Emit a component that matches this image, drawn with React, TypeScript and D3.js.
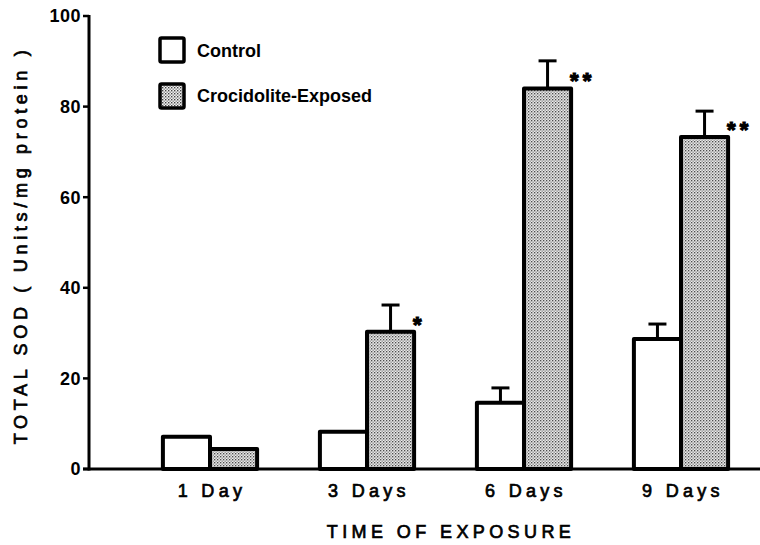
import React from "react";
import * as d3 from "d3";

const categories = ["1 Day", "3 Days", "6 Days", "9 Days"];
const series = ["Control", "Crocidolite-Exposed"];
const controlValues = [7.1, 8.2, 14.6, 28.7];
const controlErrors = [0, 0, 3.3, 3.3];
const exposedValues = [4.4, 30.3, 84.0, 73.3];
const exposedErrors = [0, 5.9, 6.1, 5.7];
const significance = ["", "*", "**", "**"];
const yTicks = [0, 20, 40, 60, 80, 100];

const W = 760;
const H = 545;
const FONT = "'Liberation Sans', Arial, Helvetica, sans-serif";

export default function App() {
  const x0 = 89;
  const y = d3.scaleLinear().domain([0, 100]).range([469, 16]);
  const xGroup = d3
    .scaleBand<string>()
    .domain(categories)
    .range([131.5, 759.5])
    .paddingInner(0.4)
    .paddingOuter(0.2);
  const xSeries = d3
    .scaleBand<string>()
    .domain(series)
    .range([0, xGroup.bandwidth()])
    .padding(0);

  const rows = categories.map((c, i) => ({
    cat: c,
    bars: [
      { s: series[0], v: controlValues[i], e: controlErrors[i] },
      { s: series[1], v: exposedValues[i], e: exposedErrors[i] },
    ],
    sig: significance[i],
  }));

  const bw = xSeries.bandwidth();

  return (
    <svg
      width={W}
      height={H}
      style={{ position: "absolute", left: 0, top: 0, background: "#fff" }}
      fontFamily={FONT}
    >
      <defs>
        <pattern id="stipple" width="3" height="3" patternUnits="userSpaceOnUse">
          <rect width="3" height="3" fill="#f2f2f2" />
          <rect x="0" y="0" width="1.4" height="1.4" fill="#444" />
          <rect x="1.5" y="1.5" width="1.4" height="1.4" fill="#888" />
        </pattern>
      </defs>

      {/* bars */}
      {rows.map((r) => {
        const gx = xGroup(r.cat)!;
        return (
          <g key={r.cat} transform={`translate(${gx},0)`}>
            {r.bars.map((b, j) => {
              const bx = xSeries(b.s)!;
              const cx = bx + bw / 2;
              return (
                <g key={b.s}>
                  {b.e > 0 && (
                    <g stroke="#000" strokeWidth={3}>
                      <line x1={cx} x2={cx} y1={y(b.v)} y2={y(b.v + b.e)} />
                      <line x1={cx - 9} x2={cx + 9} y1={y(b.v + b.e)} y2={y(b.v + b.e)} />
                    </g>
                  )}
                  <rect
                    x={bx}
                    y={y(b.v)}
                    width={bw}
                    height={y(0) - y(b.v)}
                    fill={j === 0 ? "#fff" : "url(#stipple)"}
                    stroke="#000"
                    strokeWidth={4}
                    strokeLinejoin="round"
                  />
                </g>
              );
            })}
            {r.sig && (
              <text
                x={xSeries(series[1])! + bw - 1}
                y={y(r.bars[1].v) + 0}
                fontSize={22}
                fontWeight="bold"
                letterSpacing={4}
                stroke="#000"
                strokeWidth={1.2}
              >
                {r.sig}
              </text>
            )}
          </g>
        );
      })}

      {/* x axis */}
      <line x1={x0 - 6} x2={W} y1={y(0)} y2={y(0)} stroke="#000" strokeWidth={3} />
      {categories.map((c) => (
        <text
          key={c}
          x={xGroup(c)! + xGroup.bandwidth() / 2 + 2}
          y={497}
          textAnchor="middle"
          fontSize={18}
          letterSpacing={4.3}
          fill="#000"
          stroke="#000"
          strokeWidth={0.7}
        >
          {c}
        </text>
      ))}
      <text
        x={451}
        y={538}
        textAnchor="middle"
        fontSize={18}
        letterSpacing={4.4}
        fill="#000"
        stroke="#000"
        strokeWidth={0.7}
      >
        TIME OF EXPOSURE
      </text>

      {/* y axis */}
      <line x1={x0} x2={x0} y1={y(0) + 1.5} y2={y(100) - 1} stroke="#000" strokeWidth={3} />
      {yTicks.map((t) => (
        <g key={t}>
          <line x1={x0 - 6} x2={x0} y1={y(t)} y2={y(t)} stroke="#000" strokeWidth={2.5} />
          <text
            x={81}
            y={y(t)}
            dy="0.35em"
            textAnchor="end"
            fontSize={18}
            fontWeight="bold"
            letterSpacing={0.5}
          >
            {t}
          </text>
        </g>
      ))}
      <text
        transform={`translate(27,${245}) rotate(-90)`}
        textAnchor="middle"
        fontSize={18}
        letterSpacing={4.7}
        stroke="#000"
        strokeWidth={0.7}
      >
        TOTAL SOD ( Units/mg protein )
      </text>

      {/* legend */}
      <g>
        <rect x={160} y={38} width={24} height={24} fill="#fff" stroke="#000" strokeWidth={3.5} rx={1.5} />
        <text x={197} y={57} fontSize={18} fontWeight="bold">
          {series[0]}
        </text>
        <rect x={160} y={84} width={24} height={24} fill="url(#stipple)" stroke="#000" strokeWidth={3.5} rx={1.5} />
        <text x={197} y={102} fontSize={18} fontWeight="bold">
          {series[1]}
        </text>
      </g>
    </svg>
  );
}
